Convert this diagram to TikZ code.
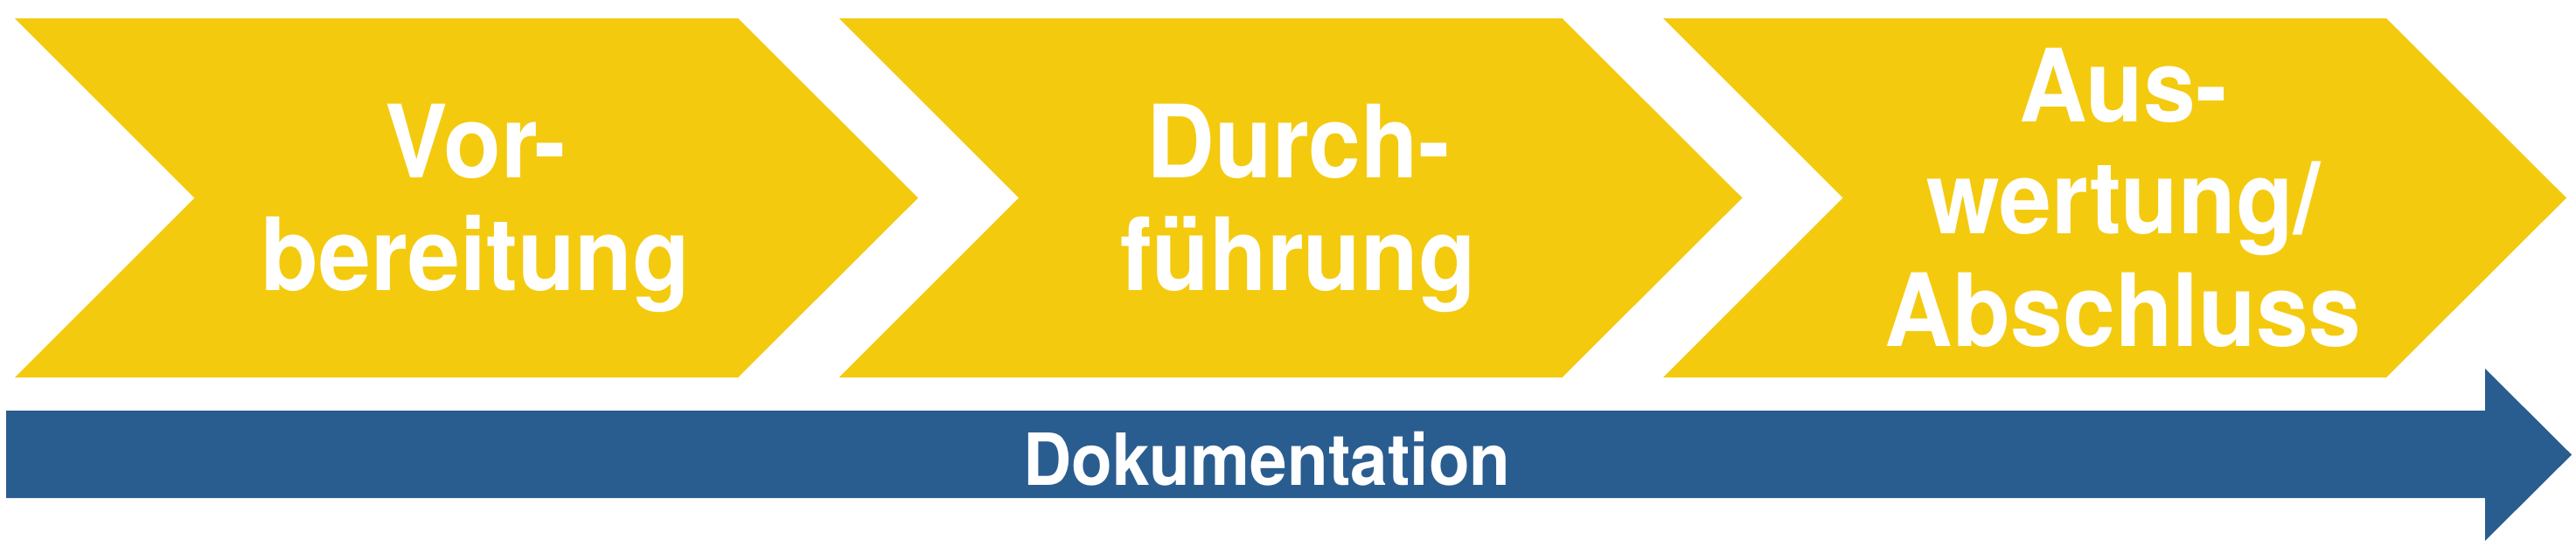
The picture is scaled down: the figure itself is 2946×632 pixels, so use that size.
\documentclass[tikz,border=0pt]{standalone}
\usepackage{fontspec}
\newfontfamily\lblfont[FakeStretch=0.93]{TeX Gyre Heros}
\definecolor{chevyellow}{HTML}{F4CA0F}
\definecolor{barblue}{HTML}{2A5D8F}
\tikzset{
  chev/.style={fill=chevyellow, draw=none},
  bar/.style={fill=barblue, draw=none},
  lbl/.style={anchor=base, inner sep=0pt, text=white, font=\lblfont\bfseries\fontsize{32.9pt}{36pt}\selectfont},
  doklbl/.style={anchor=base, inner sep=0pt, text=white, font=\lblfont\bfseries\fontsize{23.4pt}{26pt}\selectfont}
}
\begin{document}
\begin{tikzpicture}[x=0.01cm, y=-0.01cm]
\useasboundingbox (0,0) rectangle (2946,632);
% chevrons
\foreach \i in {0,1,2} {
  \pgfmathsetmacro{\ox}{942.5*\i}
  \fill[chev] (17+\ox,21) -- (844+\ox,21) -- (1050+\ox,226.5) -- (844+\ox,432) -- (17+\ox,432) -- (222.5+\ox,226.5) -- cycle;
}
% documentation arrow
\fill[bar] (7,470) -- (2842,470) -- (2842,422) -- (2941,520.5) -- (2842,619) -- (2842,570) -- (7,570) -- cycle;
% labels
\node[lbl] (vor1) at (544,203) {Vor-};
\node[lbl] (vor2) at (544,332) {bereitung};
\node[lbl] (dur1) at (1485,203) {Durch-};
\node[lbl] (dur2) at (1485,332) {führung};
\node[lbl] (aus1) at (2428,139) {Aus-};
\node[lbl] (aus2) at (2428,267) {wertung/};
\node[lbl] (aus3) at (2428,396) {Abschluss};
\node[doklbl] (dok) at (1449,555) {Dokumentation};
\end{tikzpicture}
\end{document}
